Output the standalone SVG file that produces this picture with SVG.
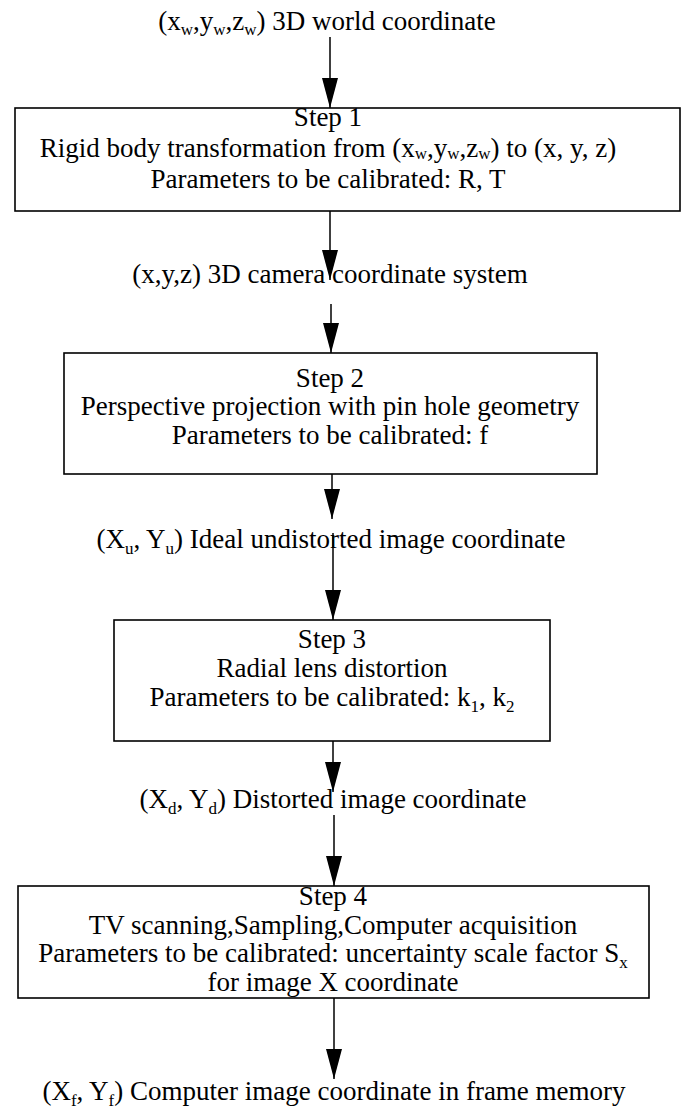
<svg xmlns="http://www.w3.org/2000/svg" width="681" height="1110" viewBox="0 0 681 1110">
<defs>
<marker id="ah" markerUnits="userSpaceOnUse" markerWidth="30" markerHeight="16" refX="30" refY="8" orient="auto">
<path d="M0,0 L30,8 L0,16 z" fill="#000"/>
</marker>
<style>
text{font-family:"Liberation Serif","Times New Roman",serif;font-size:27px;fill:#000;text-anchor:middle}
.s{font-size:17px}
rect{fill:#fff;stroke:#000;stroke-width:1.6}
line{stroke:#000;stroke-width:1.5}
</style>
</defs>
<rect x="0" y="0" width="681" height="1110" style="fill:#fff;stroke:none"/>

<g id="connectors">
<line x1="330" y1="37" x2="330" y2="108" marker-end="url(#ah)"/>
<line x1="330" y1="211" x2="330" y2="280" marker-end="url(#ah)"/>
<line x1="331" y1="304" x2="331" y2="353" marker-end="url(#ah)"/>
<line x1="332" y1="474" x2="332" y2="519" marker-end="url(#ah)"/>
<line x1="333" y1="533" x2="333" y2="620" marker-end="url(#ah)"/>
<line x1="333" y1="741" x2="333" y2="792" marker-end="url(#ah)"/>
<line x1="334" y1="815" x2="334" y2="886" marker-end="url(#ah)"/>
<line x1="334" y1="998" x2="334" y2="1079" marker-end="url(#ah)"/>
</g>

<g id="label-world">
<text x="327" y="30">(x<tspan class="s" dy="5">w</tspan><tspan dy="-5">,y</tspan><tspan class="s" dy="5">w</tspan><tspan dy="-5">,z</tspan><tspan class="s" dy="5">w</tspan><tspan dy="-5">) 3D world coordinate</tspan></text>
</g>

<g id="step1">
<rect x="15" y="108" width="665" height="103"/>
<text x="328" y="126">Step 1</text>
<text x="328" y="157">Rigid body transformation from (x<tspan class="s" dy="2">w</tspan><tspan dy="-2">,y</tspan><tspan class="s" dy="2">w</tspan><tspan dy="-2">,z</tspan><tspan class="s" dy="2">w</tspan><tspan dy="-2">) to (x, y, z)</tspan></text>
<text x="328" y="188">Parameters to be calibrated: R, T</text>
</g>

<g id="label-camera">
<text x="330" y="283">(x,y,z) 3D camera coordinate system</text>
</g>

<g id="step2">
<rect x="64" y="353" width="533" height="121"/>
<text x="330" y="387">Step 2</text>
<text x="330" y="415">Perspective projection with pin hole geometry</text>
<text x="330" y="444">Parameters to be calibrated: f</text>
</g>

<g id="label-undistorted">
<text x="331" y="548">(X<tspan class="s" dy="6">u</tspan><tspan dy="-6">, Y</tspan><tspan class="s" dy="6">u</tspan><tspan dy="-6">) Ideal undistorted image coordinate</tspan></text>
</g>

<g id="step3">
<rect x="114" y="620" width="436" height="121"/>
<text x="332" y="648">Step 3</text>
<text x="332" y="677">Radial lens distortion</text>
<text x="332" y="706">Parameters to be calibrated: k<tspan class="s" dy="6">1</tspan><tspan dy="-6">, k</tspan><tspan class="s" dy="6">2</tspan></text>
</g>

<g id="label-distorted">
<text x="333" y="808">(X<tspan class="s" dy="6">d</tspan><tspan dy="-6">, Y</tspan><tspan class="s" dy="6">d</tspan><tspan dy="-6">) Distorted image coordinate</tspan></text>
</g>

<g id="step4">
<rect x="18" y="886" width="631" height="112"/>
<text x="333" y="905">Step 4</text>
<text x="333" y="934">TV scanning,Sampling,Computer acquisition</text>
<text x="333" y="962">Parameters to be calibrated: uncertainty scale factor S<tspan class="s" dy="6">x</tspan></text>
<text x="333" y="991">for image X coordinate</text>
</g>

<g id="label-frame">
<text x="334" y="1100">(X<tspan class="s" dy="6">f</tspan><tspan dy="-6">, Y</tspan><tspan class="s" dy="6">f</tspan><tspan dy="-6">) Computer image coordinate in frame memory</tspan></text>
</g>
</svg>
